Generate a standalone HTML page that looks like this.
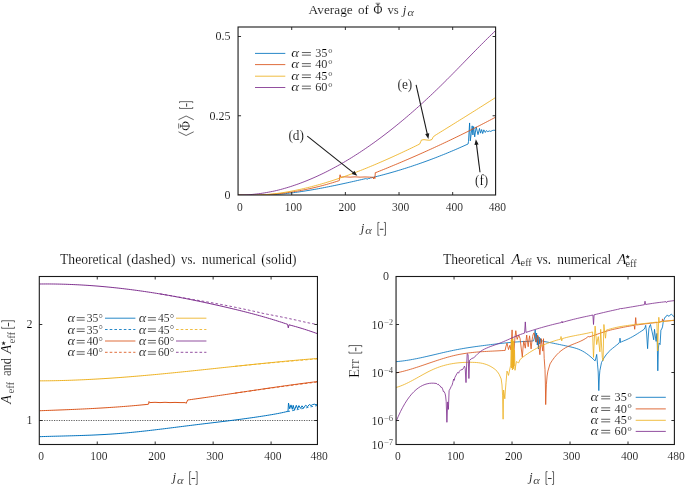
<!DOCTYPE html>
<html><head><meta charset="utf-8"><title>plots</title>
<style>
html,body{margin:0;padding:0;background:#fff;}
svg{display:block;font-family:'Liberation Serif', serif;}
</style></head>
<body>
<svg width="685" height="486" viewBox="0 0 685 486">
<rect width="685" height="486" fill="#ffffff"/>
<clipPath id="c1"><rect x="238.05" y="27.0" width="257.55" height="168.0"/></clipPath>
<g clip-path="url(#c1)"><path d="M238.00,194.82 L240.06,194.95 L242.12,195.05 L244.18,195.15 L246.24,195.22 L248.30,195.28 L250.36,195.32 L252.42,195.34 L254.48,195.35 L256.54,195.34 L258.60,195.32 L260.66,195.28 L262.72,195.23 L264.78,195.16 L266.84,195.07 L268.90,194.98 L270.95,194.86 L273.01,194.74 L275.07,194.60 L277.13,194.45 L279.19,194.27 L281.25,194.08 L283.31,193.87 L285.37,193.65 L287.43,193.41 L289.49,193.17 L291.55,192.92 L293.61,192.65 L295.67,192.37 L297.73,192.09 L299.79,191.79 L301.85,191.48 L303.91,191.17 L305.97,190.84 L308.03,190.51 L310.09,190.16 L312.15,189.81 L314.21,189.45 L316.27,189.08 L318.33,188.71 L320.39,188.33 L322.45,187.94 L324.51,187.54 L326.57,187.14 L328.63,186.73 L330.69,186.31 L332.75,185.89 L334.80,185.47 L336.86,185.04 L338.92,184.60 L340.98,184.16 L343.04,183.72 L345.10,183.27 L347.16,182.82 L349.22,182.36 L351.28,181.90 L353.34,181.44 L355.40,180.98 L357.46,180.51 L359.52,180.04 L361.58,179.57 L363.64,179.10 L365.70,178.63 L366.40,178.75 L367.50,179.25 L368.50,177.95 L369.50,178.95 L370.50,177.65 L371.50,177.85 L371.50,177.75 L373.56,177.25 L375.61,176.74 L377.67,176.22 L379.72,175.70 L381.78,175.16 L383.83,174.61 L385.89,174.06 L387.94,173.49 L390.00,172.92 L392.05,172.33 L394.11,171.74 L396.16,171.13 L398.22,170.52 L400.27,169.90 L402.33,169.26 L404.39,168.62 L406.44,167.97 L408.50,167.31 L410.55,166.63 L412.61,165.95 L414.66,165.26 L416.72,164.56 L418.77,163.85 L420.83,163.14 L422.88,162.41 L424.94,161.67 L426.99,160.92 L429.05,160.16 L431.10,159.40 L433.16,158.62 L435.21,157.83 L437.27,157.04 L439.33,156.23 L441.38,155.42 L443.44,154.59 L445.49,153.76 L447.55,152.92 L449.60,152.06 L451.66,151.20 L453.71,150.33 L455.77,149.45 L457.82,148.56 L459.88,147.66 L461.93,146.74 L463.99,145.82 L466.04,144.90 L468.10,143.96 L468.50,141.35 L469.60,122.95 L470.30,140.85 L472.20,125.85 L472.90,134.95 L473.60,126.55 L474.70,136.85 L476.20,126.95 L478.00,134.65 L479.50,128.45 L480.50,133.15 L481.60,129.55 L482.70,133.55 L483.80,129.85 L485.30,132.45 L486.40,130.55 L487.80,131.65 L489.30,130.95 L490.80,131.45 L492.20,130.55 L493.70,130.25 L495.50,130.25" fill="none" stroke="#0072BD" stroke-width="0.86" stroke-linejoin="round"/><path d="M238.00,194.97 L240.06,195.04 L242.11,195.10 L244.17,195.14 L246.22,195.17 L248.28,195.19 L250.33,195.19 L252.39,195.18 L254.44,195.15 L256.50,195.11 L258.55,195.06 L260.61,194.99 L262.66,194.90 L264.72,194.80 L266.77,194.69 L268.83,194.56 L270.88,194.42 L272.94,194.26 L274.99,194.09 L277.05,193.90 L279.10,193.69 L281.16,193.46 L283.21,193.21 L285.27,192.94 L287.32,192.67 L289.38,192.37 L291.43,192.06 L293.49,191.74 L295.54,191.40 L297.60,191.05 L299.65,190.68 L301.71,190.30 L303.76,189.90 L305.82,189.48 L307.87,189.05 L309.93,188.61 L311.98,188.15 L314.04,187.67 L316.09,187.18 L318.15,186.68 L320.20,186.16 L322.26,185.62 L324.31,185.07 L326.37,184.50 L328.42,183.92 L330.48,183.32 L332.53,182.71 L334.59,182.08 L336.64,181.44 L338.70,180.78 L339.30,180.55 L339.70,176.75 L340.10,174.75 L340.60,177.15 L345.00,176.85 L350.00,177.15 L355.00,176.85 L360.00,177.15 L365.00,176.95 L370.00,177.15 L373.00,177.25 L373.60,178.95 L374.30,176.85 L374.90,178.55 L375.30,172.65 L375.30,172.80 L377.34,171.99 L379.37,171.17 L381.41,170.35 L383.45,169.53 L385.49,168.70 L387.52,167.86 L389.56,167.03 L391.60,166.18 L393.64,165.34 L395.67,164.49 L397.71,163.63 L399.75,162.77 L401.78,161.91 L403.82,161.04 L405.86,160.17 L407.90,159.30 L409.93,158.42 L411.97,157.53 L414.01,156.64 L416.05,155.75 L418.08,154.85 L420.12,153.95 L422.16,153.04 L424.19,152.13 L426.23,151.21 L428.27,150.29 L430.31,149.37 L432.34,148.44 L434.38,147.50 L436.42,146.56 L438.46,145.62 L440.49,144.67 L442.53,143.72 L444.57,142.76 L446.61,141.80 L448.64,140.83 L450.68,139.86 L452.72,138.88 L454.75,137.90 L456.79,136.92 L458.83,135.93 L460.87,134.93 L462.90,133.93 L464.94,132.92 L466.98,131.91 L469.02,130.90 L471.05,129.88 L473.09,128.85 L475.13,127.82 L477.16,126.79 L479.20,125.75 L481.24,124.70 L483.28,123.65 L485.31,122.60 L487.35,121.54 L489.39,120.47 L491.43,119.40 L493.46,118.33 L495.50,117.25" fill="none" stroke="#D95319" stroke-width="0.86" stroke-linejoin="round"/><path d="M238.00,195.01 L240.04,195.10 L242.08,195.17 L244.12,195.22 L246.16,195.25 L248.20,195.26 L250.24,195.26 L252.28,195.23 L254.32,195.18 L256.36,195.12 L258.40,195.04 L260.44,194.94 L262.49,194.82 L264.53,194.68 L266.57,194.53 L268.61,194.35 L270.65,194.16 L272.69,193.95 L274.73,193.73 L276.77,193.49 L278.81,193.22 L280.85,192.93 L282.89,192.62 L284.93,192.30 L286.97,191.95 L289.01,191.60 L291.05,191.22 L293.09,190.84 L295.13,190.43 L297.17,190.01 L299.21,189.58 L301.25,189.13 L303.29,188.67 L305.33,188.19 L307.38,187.70 L309.42,187.19 L311.46,186.67 L313.50,186.14 L315.54,185.59 L317.58,185.04 L319.62,184.46 L321.66,183.88 L323.70,183.28 L325.74,182.67 L327.78,182.04 L329.82,181.41 L331.86,180.76 L333.90,180.10 L335.94,179.43 L337.98,178.74 L340.02,178.05 L342.06,177.34 L344.10,176.63 L346.14,175.90 L348.18,175.16 L350.22,174.42 L352.27,173.66 L354.31,172.89 L356.35,172.11 L358.39,171.32 L360.43,170.53 L362.47,169.72 L364.51,168.90 L366.55,168.08 L368.59,167.25 L370.63,166.40 L372.67,165.55 L374.71,164.69 L376.75,163.83 L378.79,162.95 L380.83,162.07 L382.87,161.18 L384.91,160.28 L386.95,159.38 L388.99,158.47 L391.03,157.55 L393.07,156.63 L395.11,155.70 L397.16,154.76 L399.20,153.82 L401.24,152.87 L403.28,151.91 L405.32,150.95 L407.36,149.99 L409.40,149.02 L411.44,148.04 L413.48,147.06 L415.52,146.07 L417.56,145.09 L419.60,144.09 L420.70,141.85 L421.40,140.05 L424.00,139.65 L426.90,140.05 L429.80,140.25 L432.00,139.45 L433.10,137.15 L434.20,136.05 L434.20,135.96 L436.31,134.66 L438.43,133.35 L440.54,132.04 L442.66,130.73 L444.77,129.43 L446.88,128.12 L449.00,126.81 L451.11,125.50 L453.22,124.18 L455.34,122.87 L457.45,121.56 L459.57,120.24 L461.68,118.92 L463.79,117.61 L465.91,116.29 L468.02,114.96 L470.13,113.64 L472.25,112.31 L474.36,110.99 L476.48,109.66 L478.59,108.32 L480.70,106.99 L482.82,105.65 L484.93,104.31 L487.04,102.96 L489.16,101.62 L491.27,100.27 L493.39,98.91 L495.50,97.56" fill="none" stroke="#EDB120" stroke-width="0.86" stroke-linejoin="round"/><path d="M238.00,195.18 L240.03,195.15 L242.06,195.09 L244.08,195.01 L246.11,194.91 L248.14,194.78 L250.17,194.63 L252.19,194.46 L254.22,194.26 L256.25,194.03 L258.28,193.79 L260.30,193.52 L262.33,193.22 L264.36,192.90 L266.39,192.56 L268.41,192.20 L270.44,191.81 L272.47,191.40 L274.50,190.97 L276.52,190.51 L278.55,190.02 L280.58,189.50 L282.61,188.94 L284.63,188.37 L286.66,187.77 L288.69,187.16 L290.72,186.52 L292.74,185.85 L294.77,185.17 L296.80,184.47 L298.83,183.74 L300.85,182.99 L302.88,182.22 L304.91,181.43 L306.94,180.62 L308.96,179.78 L310.99,178.93 L313.02,178.06 L315.05,177.16 L317.07,176.25 L319.10,175.31 L321.13,174.35 L323.16,173.38 L325.19,172.38 L327.21,171.36 L329.24,170.33 L331.27,169.27 L333.30,168.19 L335.32,167.10 L337.35,165.98 L339.38,164.85 L341.41,163.70 L343.43,162.52 L345.46,161.33 L347.49,160.12 L349.52,158.89 L351.54,157.65 L353.57,156.38 L355.60,155.09 L357.63,153.79 L359.65,152.47 L361.68,151.13 L363.71,149.77 L365.74,148.40 L367.76,147.00 L369.79,145.59 L371.82,144.17 L373.85,142.72 L375.87,141.26 L377.90,139.78 L379.93,138.28 L381.96,136.77 L383.98,135.23 L386.01,133.69 L388.04,132.12 L390.07,130.54 L392.09,128.94 L394.12,127.32 L396.15,125.69 L398.18,124.04 L400.20,122.38 L402.23,120.70 L404.26,119.00 L406.29,117.29 L408.31,115.56 L410.34,113.81 L412.37,112.05 L414.40,110.27 L416.43,108.48 L418.45,106.67 L420.48,104.84 L422.51,103.00 L424.54,101.15 L426.56,99.28 L428.59,97.39 L430.62,95.49 L432.65,93.57 L434.67,91.64 L436.70,89.69 L438.73,87.73 L440.76,85.75 L442.78,83.76 L444.81,81.76 L446.84,79.74 L448.87,77.70 L450.89,75.66 L452.92,73.60 L454.95,71.54 L456.98,69.47 L459.00,67.40 L461.03,65.32 L463.06,63.24 L465.09,61.15 L467.11,59.07 L469.14,56.99 L471.17,54.91 L473.20,52.84 L475.22,50.77 L477.25,48.70 L479.28,46.65 L481.31,44.61 L483.33,42.57 L485.36,40.55 L487.39,38.55 L489.42,36.56 L491.44,34.58 L493.47,32.63 L495.50,30.69" fill="none" stroke="#7E2F8E" stroke-width="0.86" stroke-linejoin="round"/></g>
<rect x="238.05" y="27.0" width="257.55" height="168.0" fill="none" stroke="#1a1a1a" stroke-width="1.1"/><path d="M291.71,195.0 v-3.0 M291.71,27.0 v3.0 M345.36,195.0 v-3.0 M345.36,27.0 v3.0 M399.02,195.0 v-3.0 M399.02,27.0 v3.0 M452.68,195.0 v-3.0 M452.68,27.0 v3.0 M238.05,115.75 h3.0 M495.6,115.75 h-3.0 M238.05,36.50 h3.0 M495.6,36.50 h-3.0 " stroke="#1a1a1a" stroke-width="0.9" fill="none"/>
<path d="M255,53.4 H285.3" stroke="#0072BD" stroke-width="0.85"/>
<path d="M255,64.6 H285.3" stroke="#D95319" stroke-width="0.85"/>
<path d="M255,76.2 H285.3" stroke="#EDB120" stroke-width="0.85"/>
<path d="M255,87.5 H285.3" stroke="#7E2F8E" stroke-width="0.85"/>
<path d="M307.30,136.10 L353.85,173.06" stroke="#1a1a1a" stroke-width="1.1"/><path d="M357.30,175.80 L351.77,174.09 L354.38,170.80 Z" fill="#1a1a1a"/>
<path d="M416.10,84.80 L427.42,134.61" stroke="#1a1a1a" stroke-width="1.1"/><path d="M428.40,138.90 L425.16,134.10 L429.25,133.17 Z" fill="#1a1a1a"/>
<path d="M480.00,172.30 L476.40,143.67" stroke="#1a1a1a" stroke-width="1.1"/><path d="M475.85,139.30 L478.61,144.40 L474.44,144.92 Z" fill="#1a1a1a"/>
<clipPath id="c2"><rect x="39.3" y="276.5" width="278.15" height="168.0"/></clipPath>
<g clip-path="url(#c2)"><path d="M39.3,420.5 H317.45" stroke="#1a1a1a" stroke-width="0.7" stroke-dasharray="1.2 1.25"/><path d="M39.50,436.66 L41.52,436.60 L43.53,436.54 L45.55,436.48 L47.57,436.42 L49.58,436.37 L51.60,436.31 L53.61,436.26 L55.63,436.21 L57.65,436.16 L59.66,436.11 L61.68,436.05 L63.70,436.00 L65.71,435.95 L67.73,435.90 L69.74,435.84 L71.76,435.79 L73.78,435.73 L75.79,435.67 L77.81,435.61 L79.83,435.55 L81.84,435.48 L83.86,435.41 L85.87,435.34 L87.89,435.27 L89.91,435.19 L91.92,435.11 L93.94,435.02 L95.96,434.93 L97.97,434.83 L99.99,434.73 L102.00,434.63 L104.02,434.52 L106.04,434.41 L108.05,434.28 L110.07,434.16 L112.09,434.02 L114.10,433.88 L116.12,433.74 L118.13,433.58 L120.15,433.42 L122.17,433.26 L124.18,433.09 L126.20,432.91 L128.22,432.72 L130.23,432.53 L132.25,432.34 L134.26,432.14 L136.28,431.93 L138.30,431.73 L140.31,431.51 L142.33,431.29 L144.35,431.07 L146.36,430.85 L148.38,430.62 L150.39,430.39 L152.41,430.15 L154.43,429.91 L156.44,429.67 L158.46,429.43 L160.48,429.18 L162.49,428.94 L164.51,428.69 L166.52,428.44 L168.54,428.19 L170.56,427.93 L172.57,427.68 L174.59,427.43 L176.61,427.17 L178.62,426.92 L180.64,426.66 L182.65,426.41 L184.67,426.15 L186.69,425.90 L188.70,425.65 L190.72,425.40 L192.74,425.15 L194.75,424.90 L196.77,424.65 L198.78,424.41 L200.80,424.16 L202.82,423.92 L204.83,423.67 L206.85,423.43 L208.87,423.19 L210.88,422.95 L212.90,422.71 L214.91,422.46 L216.93,422.22 L218.95,421.98 L220.96,421.73 L222.98,421.49 L225.00,421.24 L227.01,420.99 L229.03,420.74 L231.04,420.49 L233.06,420.23 L235.08,419.97 L237.09,419.71 L239.11,419.45 L241.13,419.19 L243.14,418.92 L245.16,418.64 L247.17,418.37 L249.19,418.09 L251.21,417.80 L253.22,417.52 L255.24,417.22 L257.26,416.93 L259.27,416.62 L261.29,416.32 L263.30,416.00 L265.32,415.69 L267.34,415.36 L269.35,415.03 L271.37,414.70 L273.39,414.35 L275.40,413.99 L277.42,413.62 L279.43,413.23 L281.45,412.82 L283.47,412.39 L285.48,411.92 L287.50,411.42 L288.00,411.20 L288.50,403.10 L289.70,408.80 L291.00,404.90 L292.30,409.30 L293.20,405.30 L294.50,410.10 L296.30,405.30 L297.60,408.80 L298.90,405.60 L300.60,408.40 L302.00,405.80 L303.70,408.00 L305.50,405.30 L307.60,406.60 L309.40,404.50 L311.00,405.60 L312.50,404.60 L314.70,404.20 L316.00,404.80 L317.50,404.50" fill="none" stroke="#0072BD" stroke-width="1.0" stroke-linejoin="round"/><path d="M287.50,411.64 L290.23,411.10 L292.95,410.55 L295.68,409.99 L298.41,409.43 L301.14,408.86 L303.86,408.29 L306.59,407.72 L309.32,407.14 L312.05,406.57 L314.77,406.01 L317.50,405.44" fill="none" stroke="#0072BD" stroke-width="0.86" stroke-linejoin="round" stroke-dasharray="2.6 2.1"/><path d="M39.50,410.73 L41.55,410.66 L43.60,410.59 L45.65,410.51 L47.70,410.44 L49.75,410.36 L51.79,410.29 L53.84,410.21 L55.89,410.14 L57.94,410.06 L59.99,409.98 L62.04,409.90 L64.09,409.82 L66.14,409.73 L68.19,409.65 L70.24,409.56 L72.28,409.48 L74.33,409.39 L76.38,409.30 L78.43,409.20 L80.48,409.11 L82.53,409.01 L84.58,408.91 L86.63,408.81 L88.68,408.71 L90.73,408.60 L92.78,408.50 L94.82,408.38 L96.87,408.27 L98.92,408.15 L100.97,408.04 L103.02,407.91 L105.07,407.79 L107.12,407.66 L109.17,407.53 L111.22,407.39 L113.27,407.26 L115.32,407.12 L117.36,406.97 L119.41,406.82 L121.46,406.67 L123.51,406.51 L125.56,406.35 L127.61,406.19 L129.66,406.02 L131.71,405.85 L133.76,405.67 L135.81,405.49 L137.85,405.31 L139.90,405.12 L141.95,404.92 L144.00,404.72 L146.05,404.52 L148.10,404.31 L148.60,404.10 L149.00,401.50 L149.60,402.60 L155.00,402.30 L160.00,402.60 L165.00,402.30 L170.00,402.60 L175.00,402.40 L180.00,402.60 L185.50,402.60 L186.10,403.40 L186.80,402.00 L187.60,400.10 L187.60,400.00 L189.66,399.72 L191.72,399.44 L193.79,399.15 L195.85,398.86 L197.91,398.57 L199.97,398.28 L202.03,397.99 L204.10,397.69 L206.16,397.40 L208.22,397.10 L210.28,396.80 L212.34,396.50 L214.40,396.20 L216.47,395.90 L218.53,395.59 L220.59,395.29 L222.65,394.99 L224.71,394.68 L226.78,394.38 L228.84,394.07 L230.90,393.76 L232.96,393.46 L235.02,393.15 L237.09,392.84 L239.15,392.53 L241.21,392.23 L243.27,391.92 L245.33,391.61 L247.40,391.30 L249.46,391.00 L251.52,390.69 L253.58,390.38 L255.64,390.08 L257.70,389.77 L259.77,389.47 L261.83,389.16 L263.89,388.86 L265.95,388.56 L268.01,388.26 L270.08,387.96 L272.14,387.66 L274.20,387.36 L276.26,387.06 L278.32,386.77 L280.39,386.48 L282.45,386.18 L284.51,385.89 L286.57,385.60 L288.63,385.32 L290.70,385.03 L292.76,384.75 L294.82,384.47 L296.88,384.19 L298.94,383.91 L301.00,383.64 L303.07,383.37 L305.13,383.10 L307.19,382.83 L309.25,382.57 L311.31,382.30 L313.38,382.05 L315.44,381.79 L317.50,381.54" fill="none" stroke="#D95319" stroke-width="1.0" stroke-linejoin="round"/><path d="M235.00,393.15 L237.84,392.75 L240.69,392.34 L243.53,391.94 L246.38,391.53 L249.22,391.13 L252.07,390.72 L254.91,390.32 L257.76,389.92 L260.60,389.52 L263.45,389.12 L266.29,388.72 L269.14,388.33 L271.98,387.94 L274.83,387.55 L277.67,387.16 L280.52,386.77 L283.36,386.39 L286.21,386.01 L289.05,385.63 L291.90,385.26 L294.74,384.89 L297.59,384.53 L300.43,384.17 L303.28,383.79 L306.12,383.42 L308.97,383.05 L311.81,382.69 L314.66,382.34 L317.50,381.99" fill="none" stroke="#D95319" stroke-width="0.86" stroke-linejoin="round" stroke-dasharray="2.6 2.1"/><path d="M39.50,380.85 L41.51,380.84 L43.53,380.83 L45.54,380.81 L47.56,380.79 L49.57,380.77 L51.59,380.74 L53.60,380.71 L55.62,380.67 L57.63,380.63 L59.64,380.58 L61.66,380.53 L63.67,380.48 L65.69,380.42 L67.70,380.36 L69.72,380.29 L71.73,380.22 L73.75,380.14 L75.76,380.07 L77.78,379.98 L79.79,379.90 L81.80,379.81 L83.82,379.72 L85.83,379.62 L87.85,379.52 L89.86,379.42 L91.88,379.31 L93.89,379.20 L95.91,379.09 L97.92,378.97 L99.93,378.85 L101.95,378.73 L103.96,378.61 L105.98,378.48 L107.99,378.35 L110.01,378.21 L112.02,378.08 L114.04,377.93 L116.05,377.79 L118.07,377.65 L120.08,377.50 L122.09,377.35 L124.11,377.19 L126.12,377.04 L128.14,376.88 L130.15,376.72 L132.17,376.56 L134.18,376.39 L136.20,376.22 L138.21,376.05 L140.22,375.88 L142.24,375.71 L144.25,375.53 L146.27,375.35 L148.28,375.17 L150.30,374.99 L152.31,374.81 L154.33,374.62 L156.34,374.44 L158.36,374.25 L160.37,374.06 L162.38,373.86 L164.40,373.67 L166.41,373.48 L168.43,373.28 L170.44,373.08 L172.46,372.88 L174.47,372.68 L176.49,372.48 L178.50,372.28 L180.51,372.08 L182.53,371.87 L184.54,371.66 L186.56,371.46 L188.57,371.25 L190.59,371.04 L192.60,370.83 L194.62,370.62 L196.63,370.41 L198.64,370.20 L200.66,369.99 L202.67,369.78 L204.69,369.56 L206.70,369.35 L208.72,369.14 L210.73,368.92 L212.75,368.71 L214.76,368.49 L216.78,368.28 L218.79,368.06 L220.80,367.85 L222.82,367.63 L224.83,367.42 L226.85,367.20 L228.86,366.99 L230.88,366.77 L232.89,366.56 L234.91,366.35 L236.92,366.13 L238.93,365.92 L240.95,365.71 L242.96,365.49 L244.98,365.28 L246.99,365.07 L249.01,364.86 L251.02,364.65 L253.04,364.44 L255.05,364.23 L257.07,364.03 L259.08,363.82 L261.09,363.62 L263.11,363.41 L265.12,363.21 L267.14,363.01 L269.15,362.80 L271.17,362.60 L273.18,362.41 L275.20,362.21 L277.21,362.01 L279.22,361.82 L281.24,361.63 L283.25,361.43 L285.27,361.24 L287.28,361.06 L289.30,360.87 L291.31,360.69 L293.33,360.50 L295.34,360.32 L297.36,360.14 L299.37,359.96 L301.38,359.79 L303.40,359.62 L305.41,359.45 L307.43,359.28 L309.44,359.11 L311.46,358.95 L313.47,358.78 L315.49,358.62 L317.50,358.47" fill="none" stroke="#EDB120" stroke-width="1.0" stroke-linejoin="round"/><path d="M235.00,366.34 L237.84,366.05 L240.69,365.77 L243.53,365.49 L246.38,365.21 L249.22,364.94 L252.07,364.66 L254.91,364.39 L257.76,364.11 L260.60,363.84 L263.45,363.57 L266.29,363.31 L269.14,363.04 L271.98,362.78 L274.83,362.52 L277.67,362.26 L280.52,362.01 L283.36,361.76 L286.21,361.51 L289.05,361.27 L291.90,361.03 L294.74,360.79 L297.59,360.55 L300.43,360.32 L303.28,360.08 L306.12,359.84 L308.97,359.60 L311.81,359.37 L314.66,359.14 L317.50,358.92" fill="none" stroke="#EDB120" stroke-width="0.86" stroke-linejoin="round" stroke-dasharray="2.6 2.1"/><path d="M39.50,284.00 L41.52,283.98 L43.53,283.97 L45.55,283.96 L47.57,283.96 L49.59,283.97 L51.60,283.99 L53.62,284.01 L55.64,284.04 L57.65,284.07 L59.67,284.12 L61.69,284.16 L63.70,284.22 L65.72,284.28 L67.74,284.35 L69.76,284.43 L71.77,284.51 L73.79,284.60 L75.81,284.69 L77.82,284.79 L79.84,284.90 L81.86,285.01 L83.88,285.13 L85.89,285.26 L87.91,285.39 L89.93,285.53 L91.94,285.67 L93.96,285.82 L95.98,285.98 L98.00,286.14 L100.01,286.31 L102.03,286.49 L104.05,286.67 L106.06,286.85 L108.08,287.05 L110.10,287.24 L112.11,287.45 L114.13,287.66 L116.15,287.87 L118.17,288.09 L120.18,288.32 L122.20,288.55 L124.22,288.79 L126.23,289.04 L128.25,289.29 L130.27,289.54 L132.29,289.80 L134.30,290.07 L136.32,290.34 L138.34,290.61 L140.35,290.90 L142.37,291.18 L144.39,291.48 L146.40,291.77 L148.42,292.08 L150.44,292.39 L152.46,292.70 L154.47,293.02 L156.49,293.34 L158.51,293.67 L160.52,294.00 L162.54,294.34 L164.56,294.69 L166.58,295.03 L168.59,295.39 L170.61,295.75 L172.63,296.11 L174.64,296.48 L176.66,296.85 L178.68,297.23 L180.70,297.61 L182.71,298.00 L184.73,298.39 L186.75,298.78 L188.76,299.18 L190.78,299.59 L192.80,300.00 L194.81,300.41 L196.83,300.82 L198.85,301.24 L200.87,301.67 L202.88,302.09 L204.90,302.52 L206.92,302.96 L208.93,303.39 L210.95,303.83 L212.97,304.28 L214.99,304.72 L217.00,305.17 L219.02,305.62 L221.04,306.08 L223.05,306.54 L225.07,307.00 L227.09,307.47 L229.10,307.94 L231.12,308.42 L233.14,308.90 L235.16,309.38 L237.17,309.87 L239.19,310.37 L241.21,310.87 L243.22,311.37 L245.24,311.89 L247.26,312.40 L249.28,312.93 L251.29,313.46 L253.31,313.99 L255.33,314.54 L257.34,315.09 L259.36,315.64 L261.38,316.21 L263.40,316.78 L265.41,317.36 L267.43,317.95 L269.45,318.55 L271.46,319.15 L273.48,319.76 L275.50,320.39 L277.51,321.02 L279.53,321.66 L281.55,322.31 L283.57,322.97 L285.58,323.64 L287.60,324.32 L288.30,327.90 L289.00,324.80 L291.19,325.38 L293.38,325.97 L295.58,326.59 L297.77,327.22 L299.96,327.87 L302.15,328.53 L304.35,329.22 L306.54,329.92 L308.73,330.64 L310.92,331.38 L313.12,332.14 L315.31,332.91 L317.50,333.70" fill="none" stroke="#7E2F8E" stroke-width="1.0" stroke-linejoin="round"/><path d="M160.00,293.89 L161.99,294.21 L163.99,294.54 L165.98,294.87 L167.97,295.20 L169.97,295.54 L171.96,295.88 L173.96,296.23 L175.95,296.58 L177.94,296.94 L179.94,297.28 L181.93,297.61 L183.92,297.95 L185.92,298.29 L187.91,298.63 L189.91,298.98 L191.90,299.33 L193.89,299.68 L195.89,300.01 L197.88,300.34 L199.87,300.67 L201.87,301.01 L203.86,301.35 L205.85,301.70 L207.85,302.05 L209.84,302.40 L211.84,302.76 L213.83,303.12 L215.82,303.49 L217.82,303.86 L219.81,304.23 L221.80,304.61 L223.80,305.00 L225.79,305.39 L227.78,305.78 L229.78,306.18 L231.77,306.59 L233.77,306.99 L235.76,307.40 L237.75,307.81 L239.75,308.22 L241.74,308.64 L243.73,309.06 L245.73,309.48 L247.72,309.91 L249.72,310.35 L251.71,310.79 L253.70,311.23 L255.70,311.68 L257.69,312.14 L259.68,312.60 L261.68,313.06 L263.67,313.53 L265.66,313.92 L267.66,314.29 L269.65,314.67 L271.65,315.04 L273.64,315.43 L275.63,315.82 L277.63,316.21 L279.62,316.60 L281.61,317.00 L283.61,317.40 L285.60,317.81 L287.59,318.23 L289.59,318.66 L291.58,319.10 L293.58,319.54 L295.57,319.98 L297.56,320.42 L299.56,320.87 L301.55,321.32 L303.54,321.77 L305.54,322.23 L307.53,322.69 L309.53,323.07 L311.52,323.42 L313.51,323.77 L315.51,324.13 L317.50,324.49" fill="none" stroke="#7E2F8E" stroke-width="0.86" stroke-linejoin="round" stroke-dasharray="2.6 2.1"/></g>
<rect x="39.3" y="276.5" width="278.15" height="168.0" fill="none" stroke="#1a1a1a" stroke-width="1.1"/><path d="M97.25,444.5 v-3.0 M97.25,276.5 v3.0 M155.20,444.5 v-3.0 M155.20,276.5 v3.0 M213.14,444.5 v-3.0 M213.14,276.5 v3.0 M271.09,444.5 v-3.0 M271.09,276.5 v3.0 M39.3,420.50 h3.0 M317.45,420.50 h-3.0 M39.3,324.50 h3.0 M317.45,324.50 h-3.0 " stroke="#1a1a1a" stroke-width="0.9" fill="none"/>
<path d="M105.0,318.2 h30.4" stroke="#0072BD" stroke-width="0.85"/>
<path d="M105.0,329.5 h30.4" stroke="#0072BD" stroke-width="0.85" stroke-dasharray="2.6 2.1"/>
<path d="M105.0,341.0 h30.4" stroke="#D95319" stroke-width="0.85"/>
<path d="M105.0,352.3 h30.4" stroke="#D95319" stroke-width="0.85" stroke-dasharray="2.6 2.1"/>
<path d="M176.0,318.2 h30.4" stroke="#EDB120" stroke-width="0.85"/>
<path d="M176.0,329.5 h30.4" stroke="#EDB120" stroke-width="0.85" stroke-dasharray="2.6 2.1"/>
<path d="M176.0,341.0 h30.4" stroke="#7E2F8E" stroke-width="0.85"/>
<path d="M176.0,352.3 h30.4" stroke="#7E2F8E" stroke-width="0.85" stroke-dasharray="2.6 2.1"/>
<clipPath id="c3"><rect x="396.05" y="276.5" width="278.34999999999997" height="168.0"/></clipPath>
<g clip-path="url(#c3)"><path d="M396.10,361.66 L398.15,361.48 L400.20,361.26 L402.26,361.02 L404.31,360.75 L406.36,360.45 L408.41,360.13 L410.47,359.78 L412.52,359.42 L414.57,359.03 L416.62,358.63 L418.67,358.21 L420.73,357.78 L422.78,357.33 L424.83,356.87 L426.88,356.41 L428.94,355.93 L430.99,355.46 L433.04,354.97 L435.09,354.49 L437.14,354.00 L439.20,353.52 L441.25,353.04 L443.30,352.56 L445.35,352.09 L447.41,351.63 L449.46,351.18 L451.51,350.74 L453.56,350.31 L455.61,349.89 L457.67,349.50 L459.72,349.12 L461.77,348.75 L463.82,348.40 L465.88,348.06 L467.93,347.73 L469.98,347.42 L472.03,347.11 L474.09,346.82 L476.14,346.53 L478.19,346.25 L480.24,345.97 L482.29,345.71 L484.35,345.44 L486.40,345.18 L488.45,344.93 L490.50,344.67 L492.56,344.42 L494.61,344.17 L496.66,343.92 L498.71,343.68 L500.76,343.45 L502.82,343.22 L504.87,343.00 L506.92,342.79 L508.97,342.59 L511.03,342.40 L513.08,342.22 L515.13,342.06 L517.18,341.91 L519.23,341.77 L521.29,341.66 L523.34,341.56 L525.39,341.48 L527.44,341.39 L529.50,341.26 L531.55,341.07 L533.60,340.77 L534.30,338.00 L535.20,329.90 L535.90,342.00 L536.60,333.00 L537.30,345.00 L537.90,336.00 L538.40,348.90 L539.10,337.00 L539.80,344.00 L540.50,338.50 L541.30,342.50 L542.00,340.50 L542.80,341.30 L542.80,341.28 L544.89,341.64 L546.98,342.02 L549.08,342.41 L551.17,342.81 L553.26,343.23 L555.35,343.65 L557.44,344.09 L559.54,344.53 L561.63,344.97 L563.72,345.42 L565.81,345.87 L567.90,346.31 L570.00,346.76 L572.09,347.25 L574.18,347.79 L576.27,348.42 L578.36,349.17 L580.46,350.05 L582.55,351.09 L584.64,352.31 L586.73,353.72 L588.82,355.29 L590.92,357.02 L593.01,358.91 L595.10,360.95 L595.90,358.00 L596.70,354.40 L597.50,364.10 L598.20,372.00 L598.80,390.60 L599.40,376.00 L599.90,370.50 L601.50,362.50 L603.90,358.00 L603.90,358.00 L606.06,354.92 L608.21,352.31 L610.37,350.16 L612.53,348.37 L614.69,346.63 L616.84,344.91 L619.00,343.20 L619.60,341.50 L620.00,338.20 L620.60,342.60 L621.40,341.80 L621.40,341.80 L623.67,340.93 L625.94,339.97 L628.21,338.92 L630.48,337.78 L632.75,336.55 L635.02,335.22 L637.29,333.82 L639.56,332.37 L641.83,330.86 L644.10,329.30 L645.00,327.50 L645.70,325.30 L646.60,333.00 L647.60,348.70 L648.20,338.00 L648.90,328.50 L649.70,326.00 L650.50,324.50 L651.40,329.00 L652.10,331.80 L653.00,336.00 L653.70,339.80 L654.50,329.30 L655.30,336.00 L656.10,341.40 L656.90,333.40 L657.30,345.00 L657.80,370.80 L658.40,348.00 L659.00,343.00 L660.10,344.60 L660.90,330.10 L661.70,329.00 L662.50,326.90 L663.30,321.30 L664.10,319.50 L664.90,317.30 L666.00,316.80 L667.30,314.90 L668.30,316.00 L669.00,316.50 L670.20,314.90 L671.40,314.10 L672.40,315.20 L673.20,316.20 L674.30,316.50" fill="none" stroke="#0072BD" stroke-width="0.82" stroke-linejoin="round"/><path d="M396.10,372.92 L398.16,372.50 L400.22,372.05 L402.28,371.55 L404.33,371.03 L406.39,370.48 L408.45,369.89 L410.51,369.29 L412.57,368.66 L414.63,368.01 L416.68,367.35 L418.74,366.67 L420.80,365.99 L422.86,365.29 L424.92,364.59 L426.98,363.88 L429.04,363.17 L431.09,362.47 L433.15,361.77 L435.21,361.08 L437.27,360.40 L439.33,359.73 L441.39,359.07 L443.45,358.44 L445.50,357.82 L447.56,357.23 L449.62,356.66 L451.68,356.13 L453.74,355.62 L455.80,355.15 L457.85,354.71 L459.91,354.31 L461.97,353.94 L464.03,353.60 L466.09,353.29 L468.15,353.01 L470.21,352.75 L472.26,352.52 L474.32,352.31 L476.38,352.12 L478.44,351.94 L480.50,351.79 L482.56,351.64 L484.62,351.52 L486.67,351.40 L488.73,351.29 L490.79,351.18 L492.85,351.08 L494.91,350.98 L496.97,350.88 L499.02,350.77 L501.08,350.65 L503.14,350.52 L505.20,350.38 L505.80,347.00 L507.00,343.10 L508.50,349.60 L509.90,345.30 L511.00,350.00 L511.60,340.00 L512.10,329.90 L512.70,350.00 L513.30,367.30 L514.00,352.00 L514.90,338.00 L515.80,330.70 L516.50,336.00 L517.20,339.40 L518.00,337.00 L518.70,335.00 L519.50,337.00 L520.10,338.70 L521.20,348.00 L522.30,356.90 L523.00,348.00 L523.80,340.90 L524.60,345.00 L525.30,348.20 L526.00,341.00 L526.70,335.00 L527.40,341.00 L528.20,346.70 L528.90,340.00 L529.60,335.80 L530.40,343.00 L531.10,348.90 L531.80,342.00 L532.60,336.50 L533.30,334.00 L534.00,332.80 L535.10,338.00 L536.20,342.30 L537.00,338.00 L537.70,335.00 L538.80,345.00 L539.90,354.70 L540.60,346.00 L541.30,338.70 L542.10,346.00 L542.80,351.10 L543.20,345.00 L543.50,338.70 L543.90,350.00 L544.20,358.40 L545.00,369.60 L545.40,385.00 L545.70,404.60 L546.10,392.00 L546.40,384.20 L547.10,376.00 L547.90,371.10 L550.00,364.00 L550.00,363.92 L552.21,360.47 L554.41,357.47 L556.62,354.89 L558.82,352.68 L561.03,350.79 L563.24,349.19 L565.44,347.81 L567.65,346.63 L569.85,345.60 L572.06,344.66 L574.26,343.78 L576.47,342.92 L578.68,342.02 L580.88,341.04 L583.09,339.94 L585.29,338.68 L587.50,337.21 L588.20,336.30 L588.90,337.00 L588.90,337.00 L591.06,336.31 L593.21,335.61 L595.37,334.88 L597.53,334.14 L599.69,333.37 L601.84,332.63 L604.00,331.93 L606.16,331.28 L608.31,330.66 L610.47,330.08 L612.63,329.54 L614.79,329.05 L616.94,328.58 L619.10,328.13 L621.26,327.69 L623.41,327.26 L625.57,326.84 L627.73,326.44 L629.89,326.05 L632.04,325.67 L634.20,325.30 L634.70,329.30 L635.20,324.00 L635.70,317.60 L636.30,325.00 L636.30,325.00 L638.65,324.69 L640.99,324.38 L643.34,324.08 L645.68,323.79 L648.03,323.51 L650.37,323.24 L652.72,322.97 L655.06,322.71 L657.41,322.38 L659.75,321.94 L662.10,321.40 L662.50,318.90 L663.00,321.30 L663.00,321.30 L674.30,320.40" fill="none" stroke="#D95319" stroke-width="0.82" stroke-linejoin="round"/><path d="M396.10,387.46 L398.16,386.85 L400.22,386.14 L402.28,385.34 L404.34,384.46 L406.40,383.51 L408.46,382.50 L410.53,381.45 L412.59,380.35 L414.65,379.23 L416.71,378.08 L418.77,376.92 L420.83,375.77 L422.89,374.62 L424.95,373.50 L427.01,372.40 L429.07,371.34 L431.13,370.33 L433.19,369.38 L435.25,368.50 L437.32,367.68 L439.38,366.93 L441.44,366.25 L443.50,365.63 L445.56,365.08 L447.62,364.58 L449.68,364.13 L451.74,363.74 L453.80,363.41 L455.86,363.12 L457.92,362.88 L459.98,362.69 L462.05,362.53 L464.11,362.42 L466.17,362.35 L468.23,362.31 L470.29,362.31 L472.35,362.34 L474.41,362.41 L476.47,362.53 L478.53,362.73 L480.59,363.02 L482.65,363.42 L484.71,363.96 L486.77,364.65 L488.84,365.52 L490.90,366.58 L492.96,367.85 L495.02,369.35 L497.08,371.29 L499.14,374.28 L501.20,378.97 L502.00,385.00 L502.60,395.90 L503.10,419.20 L503.60,390.00 L504.20,394.00 L504.80,398.80 L505.40,390.00 L506.00,382.70 L507.00,371.10 L507.80,373.00 L508.50,375.40 L509.60,370.00 L510.70,365.20 L511.00,355.00 L511.30,340.00 L511.60,368.00 L512.00,339.00 L512.40,370.00 L512.80,338.50 L513.20,369.00 L513.60,341.00 L514.00,366.00 L514.50,350.00 L515.00,370.30 L515.80,365.00 L516.50,361.50 L517.60,362.40 L518.70,362.80 L519.80,360.00 L520.90,358.60 L520.90,358.67 L523.11,356.96 L525.32,355.34 L527.53,353.80 L529.74,352.34 L531.96,350.96 L534.17,349.66 L536.38,348.44 L538.59,347.29 L540.80,346.20 L543.01,345.18 L545.22,344.23 L547.43,343.34 L549.64,342.50 L551.86,341.72 L554.07,341.00 L556.28,340.32 L558.49,339.69 L560.70,339.11 L561.00,336.50 L561.70,340.90 L562.40,338.60 L562.40,338.60 L564.56,337.98 L566.71,337.42 L568.87,336.90 L571.03,336.42 L573.19,335.98 L575.34,335.55 L577.50,335.14 L579.66,334.74 L581.81,334.33 L583.97,333.91 L586.13,333.47 L588.29,333.01 L590.44,332.51 L592.60,331.96 L593.00,345.00 L593.50,357.40 L594.30,340.00 L595.10,326.10 L595.90,335.00 L596.70,344.60 L597.50,340.00 L598.30,336.60 L599.10,345.00 L599.90,351.80 L600.30,340.00 L600.70,329.30 L601.50,345.00 L602.30,357.40 L603.10,360.70 L603.50,340.00 L603.90,324.50 L604.70,332.00 L605.50,338.20 L606.30,330.10 L606.30,330.10 L608.41,329.46 L610.52,328.86 L612.62,328.30 L614.73,327.79 L616.84,327.31 L618.95,326.88 L621.06,326.49 L623.17,326.14 L625.27,325.82 L627.38,325.52 L629.49,325.23 L631.60,324.95 L633.71,324.69 L635.82,324.44 L637.92,324.20 L640.03,323.98 L642.14,323.76 L644.25,323.53 L646.36,323.30 L648.47,323.07 L650.57,322.83 L652.68,322.59 L654.79,322.35 L656.90,322.10 L657.70,351.00 L658.30,330.00 L658.80,317.30 L659.40,323.00 L660.10,321.80 L660.10,321.80 L662.13,321.60 L664.16,321.38 L666.19,321.15 L668.21,320.91 L670.24,320.65 L672.27,320.38 L674.30,320.10" fill="none" stroke="#EDB120" stroke-width="0.82" stroke-linejoin="round"/><path d="M396.10,421.48 L398.32,416.27 L400.53,411.53 L402.75,407.24 L404.97,403.37 L407.18,399.91 L409.40,396.83 L411.62,394.12 L413.83,391.75 L416.05,389.71 L418.27,387.98 L420.48,386.54 L422.70,385.36 L424.92,384.45 L427.13,383.79 L429.35,383.36 L431.57,383.17 L433.78,383.19 L436.00,383.41 L436.90,383.70 L437.60,384.50 L438.20,384.10 L439.20,385.40 L440.30,386.00 L441.20,387.60 L441.80,387.30 L442.60,388.90 L443.40,391.60 L444.00,391.40 L445.00,393.40 L445.60,396.00 L446.20,401.60 L446.90,422.30 L447.70,401.90 L448.40,409.40 L449.10,390.70 L449.10,390.70 L450.10,388.90 L451.20,386.50 L452.10,385.10 L452.80,382.40 L453.70,379.00 L454.20,380.40 L454.80,377.60 L455.70,375.90 L456.80,373.80 L457.80,372.30 L458.60,373.20 L459.40,371.30 L460.90,369.70 L462.00,369.80 L462.90,369.20 L463.80,367.40 L464.50,366.10 L465.20,368.40 L466.00,382.60 L466.60,366.00 L467.20,353.70 L468.10,354.50 L468.50,366.00 L468.90,378.50 L469.60,360.20 L469.60,360.21 L471.72,358.56 L473.83,357.67 L475.95,355.72 L478.06,353.50 L480.18,351.70 L482.29,350.29 L484.41,349.14 L486.52,348.15 L488.64,347.25 L490.75,346.42 L492.87,345.64 L494.98,344.89 L497.10,344.14 L499.22,343.36 L501.33,342.54 L503.45,341.67 L505.56,340.76 L507.68,339.84 L509.79,338.90 L511.91,337.97 L514.02,337.05 L516.14,336.16 L518.25,335.30 L520.37,334.49 L522.48,333.74 L524.60,333.07 L525.30,321.90 L526.00,332.40 L526.00,332.40 L528.22,331.67 L530.44,330.95 L532.66,330.25 L534.88,329.56 L537.09,328.89 L539.31,328.23 L541.53,327.59 L543.75,326.96 L545.97,326.34 L548.19,325.74 L550.41,325.16 L552.62,324.59 L554.84,324.05 L557.06,323.51 L559.28,323.00 L561.50,322.50 L562.00,321.30 L562.50,322.90 L562.50,322.30 L564.67,321.69 L566.84,321.09 L569.01,320.50 L571.19,319.94 L573.36,319.39 L575.53,318.85 L577.70,318.33 L579.87,317.83 L582.04,317.34 L584.21,316.87 L586.39,316.42 L588.56,315.95 L590.73,315.48 L592.90,315.00 L593.50,324.50 L594.10,314.80 L594.10,314.80 L596.44,314.23 L598.77,313.66 L601.11,313.10 L603.45,312.55 L605.78,312.00 L608.12,311.47 L610.45,310.94 L612.79,310.42 L615.13,309.90 L617.46,309.40 L619.80,308.90 L620.40,308.00 L621.00,308.70 L621.00,308.70 L623.34,308.31 L625.68,307.91 L628.02,307.51 L630.36,307.12 L632.70,306.72 L635.04,306.32 L637.38,305.91 L639.72,305.51 L642.06,305.11 L644.40,304.70 L645.00,301.20 L645.60,304.50 L645.60,304.50 L647.87,304.12 L650.13,303.76 L652.40,303.42 L654.67,303.09 L656.93,302.78 L659.20,302.48 L661.47,302.21 L663.73,301.94 L666.00,301.70 L666.60,302.60 L667.20,301.50 L667.20,301.50 L674.30,300.60" fill="none" stroke="#7E2F8E" stroke-width="0.82" stroke-linejoin="round"/></g>
<rect x="396.05" y="276.5" width="278.34999999999997" height="168.0" fill="none" stroke="#1a1a1a" stroke-width="1.1"/><path d="M454.04,444.5 v-3.0 M454.04,276.5 v3.0 M512.03,444.5 v-3.0 M512.03,276.5 v3.0 M570.02,444.5 v-3.0 M570.02,276.5 v3.0 M628.01,444.5 v-3.0 M628.01,276.5 v3.0 M396.05,324.50 h3.0 M674.4,324.50 h-3.0 M396.05,372.50 h3.0 M674.4,372.50 h-3.0 M396.05,420.50 h3.0 M674.4,420.50 h-3.0 " stroke="#1a1a1a" stroke-width="0.9" fill="none"/>
<path d="M635.7,397.3 H665.8" stroke="#0072BD" stroke-width="0.85"/>
<path d="M635.7,408.9 H665.8" stroke="#D95319" stroke-width="0.85"/>
<path d="M635.7,420.3 H665.8" stroke="#EDB120" stroke-width="0.85"/>
<path d="M635.7,431.4 H665.8" stroke="#7E2F8E" stroke-width="0.85"/>
<g fill="#000" stroke="#fff" stroke-width="0.15" opacity="0.999">
<text x="291.30" y="57.30" font-size="12.7" text-anchor="start" font-style="italic" textLength="7.8" lengthAdjust="spacingAndGlyphs">α</text>
<path d="M301.90,52.55 h9.0 M301.90,55.15 h9.0" stroke="#222" stroke-width="0.72" fill="none"/>
<text x="315.20" y="57.30" font-size="12.7" text-anchor="start" textLength="12.3" lengthAdjust="spacingAndGlyphs">35</text>
<text x="328.00" y="57.10" font-size="11.7" text-anchor="start">°</text>
<text x="291.30" y="68.40" font-size="12.7" text-anchor="start" font-style="italic" textLength="7.8" lengthAdjust="spacingAndGlyphs">α</text>
<path d="M301.90,63.65 h9.0 M301.90,66.25 h9.0" stroke="#222" stroke-width="0.72" fill="none"/>
<text x="315.20" y="68.40" font-size="12.7" text-anchor="start" textLength="12.3" lengthAdjust="spacingAndGlyphs">40</text>
<text x="328.00" y="68.20" font-size="11.7" text-anchor="start">°</text>
<text x="291.30" y="79.70" font-size="12.7" text-anchor="start" font-style="italic" textLength="7.8" lengthAdjust="spacingAndGlyphs">α</text>
<path d="M301.90,74.95 h9.0 M301.90,77.55 h9.0" stroke="#222" stroke-width="0.72" fill="none"/>
<text x="315.20" y="79.70" font-size="12.7" text-anchor="start" textLength="12.3" lengthAdjust="spacingAndGlyphs">45</text>
<text x="328.00" y="79.50" font-size="11.7" text-anchor="start">°</text>
<text x="291.30" y="90.90" font-size="12.7" text-anchor="start" font-style="italic" textLength="7.8" lengthAdjust="spacingAndGlyphs">α</text>
<path d="M301.90,86.15 h9.0 M301.90,88.75 h9.0" stroke="#222" stroke-width="0.72" fill="none"/>
<text x="315.20" y="90.90" font-size="12.7" text-anchor="start" textLength="12.3" lengthAdjust="spacingAndGlyphs">60</text>
<text x="328.00" y="90.70" font-size="11.7" text-anchor="start">°</text>
<text x="239.75" y="210.50" font-size="12" text-anchor="middle" textLength="5.75" lengthAdjust="spacingAndGlyphs">0</text>
<text x="293.41" y="210.50" font-size="12" text-anchor="middle" textLength="17.25" lengthAdjust="spacingAndGlyphs">100</text>
<text x="347.06" y="210.50" font-size="12" text-anchor="middle" textLength="17.25" lengthAdjust="spacingAndGlyphs">200</text>
<text x="400.72" y="210.50" font-size="12" text-anchor="middle" textLength="17.25" lengthAdjust="spacingAndGlyphs">300</text>
<text x="454.38" y="210.50" font-size="12" text-anchor="middle" textLength="17.25" lengthAdjust="spacingAndGlyphs">400</text>
<text x="497.30" y="210.50" font-size="12" text-anchor="middle" textLength="17.25" lengthAdjust="spacingAndGlyphs">480</text>
<text x="230.60" y="198.90" font-size="12" text-anchor="end">0</text>
<text x="230.60" y="119.65" font-size="12" text-anchor="end">0.25</text>
<text x="230.60" y="40.40" font-size="12" text-anchor="end">0.5</text>
<text x="308.60" y="13.75" font-size="13.0" text-anchor="start" textLength="44.2" lengthAdjust="spacingAndGlyphs">Average</text>
<text x="358.00" y="13.75" font-size="13.0" text-anchor="start" textLength="10.9" lengthAdjust="spacingAndGlyphs">of</text>
<text x="387.40" y="13.75" font-size="13.0" text-anchor="start" textLength="11.3" lengthAdjust="spacingAndGlyphs">vs</text>
<text x="402.80" y="13.75" font-size="13.0" text-anchor="start" font-style="italic">j</text>
<text x="407.60" y="15.80" font-size="9.6" text-anchor="start" font-style="italic" textLength="6.4" lengthAdjust="spacingAndGlyphs">α</text>
<text transform="translate(373.6,13.75) scale(1,1.1)" x="0" y="0" font-size="13" textLength="8.9" lengthAdjust="spacingAndGlyphs">Φ</text>
<path d="M375.6,3.25 h4.6" stroke="#222" stroke-width="0.6"/>
<text x="360.80" y="232.20" font-size="13.0" text-anchor="start" font-style="italic">j</text>
<text x="365.20" y="234.30" font-size="10.2" text-anchor="start" font-style="italic" textLength="6.6" lengthAdjust="spacingAndGlyphs">α</text>
<path d="M379.50,222.45 H377.90 V235.25 H379.50 M383.85,222.45 H385.45 V235.25 H383.85" fill="none" stroke="#222" stroke-width="0.7"/><path d="M379.80,229.30 h3.7" stroke="#222" stroke-width="0.9"/>
<g transform="translate(189.9,136) rotate(-90)"><path d="M4.2,-11.4 L0.5,-3.8 L4.2,3.8" fill="none" stroke="#222" stroke-width="0.7"/><text transform="translate(5.2,0) scale(1,1.08)" x="0" y="0" font-size="14" textLength="9.6" lengthAdjust="spacingAndGlyphs">Φ</text><path d="M7.4,-11.2 h5.2" stroke="#222" stroke-width="0.65"/><path d="M16.3,-11.4 L20.0,-3.8 L16.3,3.8" fill="none" stroke="#222" stroke-width="0.7"/></g>
<g transform="translate(189.6,108.8) rotate(-90) scale(0.9,1.03)"><path d="M2.00,-9.75 H0.40 V3.05 H2.00 M6.35,-9.75 H7.95 V3.05 H6.35" fill="none" stroke="#222" stroke-width="0.7"/><path d="M2.30,-2.90 h3.7" stroke="#222" stroke-width="0.9"/></g>
<text x="296.20" y="140.40" font-size="14" text-anchor="middle" textLength="15.6" lengthAdjust="spacingAndGlyphs">(d)</text>
<text x="404.90" y="89.00" font-size="14" text-anchor="middle" textLength="14.8" lengthAdjust="spacingAndGlyphs">(e)</text>
<text x="481.60" y="185.20" font-size="14" text-anchor="middle" textLength="13.2" lengthAdjust="spacingAndGlyphs">(f)</text>
<text x="41.00" y="459.80" font-size="12" text-anchor="middle" textLength="5.75" lengthAdjust="spacingAndGlyphs">0</text>
<text x="98.95" y="459.80" font-size="12" text-anchor="middle" textLength="17.25" lengthAdjust="spacingAndGlyphs">100</text>
<text x="156.90" y="459.80" font-size="12" text-anchor="middle" textLength="17.25" lengthAdjust="spacingAndGlyphs">200</text>
<text x="214.84" y="459.80" font-size="12" text-anchor="middle" textLength="17.25" lengthAdjust="spacingAndGlyphs">300</text>
<text x="272.79" y="459.80" font-size="12" text-anchor="middle" textLength="17.25" lengthAdjust="spacingAndGlyphs">400</text>
<text x="319.15" y="459.80" font-size="12" text-anchor="middle" textLength="17.25" lengthAdjust="spacingAndGlyphs">480</text>
<text x="32.40" y="424.40" font-size="12" text-anchor="end">1</text>
<text x="32.40" y="328.40" font-size="12" text-anchor="end">2</text>
<text x="60.00" y="263.70" font-size="14.5" text-anchor="start" textLength="62.0" lengthAdjust="spacingAndGlyphs">Theoretical</text>
<text x="126.60" y="263.70" font-size="14.5" text-anchor="start" textLength="48.9" lengthAdjust="spacingAndGlyphs">(dashed)</text>
<text x="181.00" y="263.70" font-size="14.5" text-anchor="start" textLength="14.6" lengthAdjust="spacingAndGlyphs">vs.</text>
<text x="201.90" y="263.70" font-size="14.5" text-anchor="start" textLength="54.0" lengthAdjust="spacingAndGlyphs">numerical</text>
<text x="261.20" y="263.70" font-size="14.5" text-anchor="start" textLength="35.2" lengthAdjust="spacingAndGlyphs">(solid)</text>
<text x="172.50" y="481.40" font-size="13.0" text-anchor="start" font-style="italic">j</text>
<text x="176.90" y="483.50" font-size="10.2" text-anchor="start" font-style="italic" textLength="6.6" lengthAdjust="spacingAndGlyphs">α</text>
<path d="M191.20,471.65 H189.60 V484.45 H191.20 M195.55,471.65 H197.15 V484.45 H195.55" fill="none" stroke="#222" stroke-width="0.7"/><path d="M191.50,478.50 h3.7" stroke="#222" stroke-width="0.9"/>
<text x="67.60" y="322.30" font-size="12.0" text-anchor="start" font-style="italic" textLength="7.4" lengthAdjust="spacingAndGlyphs">α</text>
<path d="M76.70,317.65 h8.0 M76.70,320.15 h8.0" stroke="#222" stroke-width="0.7" fill="none"/>
<text x="86.80" y="322.30" font-size="12.0" text-anchor="start" textLength="11.6" lengthAdjust="spacingAndGlyphs">35</text>
<text x="98.50" y="322.10" font-size="11.0" text-anchor="start">°</text>
<text x="67.60" y="333.60" font-size="12.0" text-anchor="start" font-style="italic" textLength="7.4" lengthAdjust="spacingAndGlyphs">α</text>
<path d="M76.70,328.95 h8.0 M76.70,331.45 h8.0" stroke="#222" stroke-width="0.7" fill="none"/>
<text x="86.80" y="333.60" font-size="12.0" text-anchor="start" textLength="11.6" lengthAdjust="spacingAndGlyphs">35</text>
<text x="98.50" y="333.40" font-size="11.0" text-anchor="start">°</text>
<text x="67.60" y="345.10" font-size="12.0" text-anchor="start" font-style="italic" textLength="7.4" lengthAdjust="spacingAndGlyphs">α</text>
<path d="M76.70,340.45 h8.0 M76.70,342.95 h8.0" stroke="#222" stroke-width="0.7" fill="none"/>
<text x="86.80" y="345.10" font-size="12.0" text-anchor="start" textLength="11.6" lengthAdjust="spacingAndGlyphs">40</text>
<text x="98.50" y="344.90" font-size="11.0" text-anchor="start">°</text>
<text x="67.60" y="356.40" font-size="12.0" text-anchor="start" font-style="italic" textLength="7.4" lengthAdjust="spacingAndGlyphs">α</text>
<path d="M76.70,351.75 h8.0 M76.70,354.25 h8.0" stroke="#222" stroke-width="0.7" fill="none"/>
<text x="86.80" y="356.40" font-size="12.0" text-anchor="start" textLength="11.6" lengthAdjust="spacingAndGlyphs">40</text>
<text x="98.50" y="356.20" font-size="11.0" text-anchor="start">°</text>
<text x="138.80" y="322.30" font-size="12.0" text-anchor="start" font-style="italic" textLength="7.4" lengthAdjust="spacingAndGlyphs">α</text>
<path d="M147.90,317.65 h8.0 M147.90,320.15 h8.0" stroke="#222" stroke-width="0.7" fill="none"/>
<text x="158.00" y="322.30" font-size="12.0" text-anchor="start" textLength="11.6" lengthAdjust="spacingAndGlyphs">45</text>
<text x="169.70" y="322.10" font-size="11.0" text-anchor="start">°</text>
<text x="138.80" y="333.60" font-size="12.0" text-anchor="start" font-style="italic" textLength="7.4" lengthAdjust="spacingAndGlyphs">α</text>
<path d="M147.90,328.95 h8.0 M147.90,331.45 h8.0" stroke="#222" stroke-width="0.7" fill="none"/>
<text x="158.00" y="333.60" font-size="12.0" text-anchor="start" textLength="11.6" lengthAdjust="spacingAndGlyphs">45</text>
<text x="169.70" y="333.40" font-size="11.0" text-anchor="start">°</text>
<text x="138.80" y="345.10" font-size="12.0" text-anchor="start" font-style="italic" textLength="7.4" lengthAdjust="spacingAndGlyphs">α</text>
<path d="M147.90,340.45 h8.0 M147.90,342.95 h8.0" stroke="#222" stroke-width="0.7" fill="none"/>
<text x="158.00" y="345.10" font-size="12.0" text-anchor="start" textLength="11.6" lengthAdjust="spacingAndGlyphs">60</text>
<text x="169.70" y="344.90" font-size="11.0" text-anchor="start">°</text>
<text x="138.80" y="356.40" font-size="12.0" text-anchor="start" font-style="italic" textLength="7.4" lengthAdjust="spacingAndGlyphs">α</text>
<path d="M147.90,351.75 h8.0 M147.90,354.25 h8.0" stroke="#222" stroke-width="0.7" fill="none"/>
<text x="158.00" y="356.40" font-size="12.0" text-anchor="start" textLength="11.6" lengthAdjust="spacingAndGlyphs">60</text>
<text x="169.70" y="356.20" font-size="11.0" text-anchor="start">°</text>
<g transform="translate(11.4,403.8) rotate(-90)"><text x="0" y="0" font-size="14" font-style="italic">A</text><text x="10.4" y="2.4" font-size="9.6" textLength="11.4" lengthAdjust="spacingAndGlyphs">eff</text><text x="27.8" y="0" font-size="14" textLength="18" lengthAdjust="spacingAndGlyphs">and</text><text x="50.2" y="0" font-size="14" font-style="italic">A</text><text x="60.4" y="3.2" font-size="9.6" textLength="11.4" lengthAdjust="spacingAndGlyphs">eff</text></g>
<g transform="translate(11.4,328.7) rotate(-90)"><path d="M2.00,-9.75 H0.40 V3.05 H2.00 M6.35,-9.75 H7.95 V3.05 H6.35" fill="none" stroke="#222" stroke-width="0.7"/><path d="M2.30,-2.90 h3.7" stroke="#222" stroke-width="0.9"/></g>
<polygon points="3.60,341.00 4.17,342.52 5.79,342.59 4.52,343.60 4.95,345.16 3.60,344.27 2.25,345.16 2.68,343.60 1.41,342.59 3.03,342.52" fill="#222" stroke="none"/>
<text x="397.75" y="459.80" font-size="12" text-anchor="middle" textLength="5.75" lengthAdjust="spacingAndGlyphs">0</text>
<text x="455.74" y="459.80" font-size="12" text-anchor="middle" textLength="17.25" lengthAdjust="spacingAndGlyphs">100</text>
<text x="513.73" y="459.80" font-size="12" text-anchor="middle" textLength="17.25" lengthAdjust="spacingAndGlyphs">200</text>
<text x="571.72" y="459.80" font-size="12" text-anchor="middle" textLength="17.25" lengthAdjust="spacingAndGlyphs">300</text>
<text x="629.71" y="459.80" font-size="12" text-anchor="middle" textLength="17.25" lengthAdjust="spacingAndGlyphs">400</text>
<text x="676.10" y="459.80" font-size="12" text-anchor="middle" textLength="17.25" lengthAdjust="spacingAndGlyphs">480</text>
<text x="388.90" y="280.10" font-size="12" text-anchor="end">0</text>
<text x="383.50" y="328.90" font-size="12" text-anchor="end">10</text>
<text x="383.90" y="325.00" font-size="7.6" text-anchor="start" textLength="9.3" lengthAdjust="spacingAndGlyphs">−2</text>
<text x="383.50" y="376.90" font-size="12" text-anchor="end">10</text>
<text x="383.90" y="373.00" font-size="7.6" text-anchor="start" textLength="9.3" lengthAdjust="spacingAndGlyphs">−4</text>
<text x="383.50" y="424.90" font-size="12" text-anchor="end">10</text>
<text x="383.90" y="421.00" font-size="7.6" text-anchor="start" textLength="9.3" lengthAdjust="spacingAndGlyphs">−6</text>
<text x="383.50" y="448.90" font-size="12" text-anchor="end">10</text>
<text x="383.90" y="445.00" font-size="7.6" text-anchor="start" textLength="9.3" lengthAdjust="spacingAndGlyphs">−7</text>
<text x="442.90" y="263.60" font-size="14.5" text-anchor="start" textLength="62.0" lengthAdjust="spacingAndGlyphs">Theoretical</text>
<text x="536.40" y="263.60" font-size="14.5" text-anchor="start" textLength="14.6" lengthAdjust="spacingAndGlyphs">vs.</text>
<text x="557.20" y="263.60" font-size="14.5" text-anchor="start" textLength="54.0" lengthAdjust="spacingAndGlyphs">numerical</text>
<text x="511.60" y="263.60" font-size="14.5" text-anchor="start" font-style="italic" textLength="9.2" lengthAdjust="spacingAndGlyphs">A</text>
<text x="520.60" y="265.70" font-size="9.8" text-anchor="start" textLength="11.2" lengthAdjust="spacingAndGlyphs">eff</text>
<text x="617.20" y="263.60" font-size="14.5" text-anchor="start" font-style="italic" textLength="9.2" lengthAdjust="spacingAndGlyphs">A</text>
<text x="625.50" y="266.70" font-size="9.8" text-anchor="start" textLength="11.2" lengthAdjust="spacingAndGlyphs">eff</text>
<polygon points="627.70,254.50 628.27,256.02 629.89,256.09 628.62,257.10 629.05,258.66 627.70,257.77 626.35,258.66 626.78,257.10 625.51,256.09 627.13,256.02" fill="#222" stroke="none"/>
<text x="528.90" y="481.40" font-size="13.0" text-anchor="start" font-style="italic">j</text>
<text x="533.30" y="483.50" font-size="10.2" text-anchor="start" font-style="italic" textLength="6.6" lengthAdjust="spacingAndGlyphs">α</text>
<path d="M547.60,471.65 H546.00 V484.45 H547.60 M551.95,471.65 H553.55 V484.45 H551.95" fill="none" stroke="#222" stroke-width="0.7"/><path d="M547.90,478.50 h3.7" stroke="#222" stroke-width="0.9"/>
<text x="0" y="0" font-size="14" transform="translate(358.8,378.0) rotate(-90)" textLength="18.9" lengthAdjust="spacingAndGlyphs">Err</text>
<g transform="translate(358.7,353.5) rotate(-90)"><path d="M2.00,-9.75 H0.40 V3.05 H2.00 M6.35,-9.75 H7.95 V3.05 H6.35" fill="none" stroke="#222" stroke-width="0.7"/><path d="M2.30,-2.90 h3.7" stroke="#222" stroke-width="0.9"/></g>
<text x="590.60" y="401.00" font-size="12.7" text-anchor="start" font-style="italic" textLength="7.8" lengthAdjust="spacingAndGlyphs">α</text>
<path d="M601.20,396.25 h9.0 M601.20,398.85 h9.0" stroke="#222" stroke-width="0.72" fill="none"/>
<text x="614.50" y="401.00" font-size="12.7" text-anchor="start" textLength="12.3" lengthAdjust="spacingAndGlyphs">35</text>
<text x="627.30" y="400.80" font-size="11.7" text-anchor="start">°</text>
<text x="590.60" y="412.60" font-size="12.7" text-anchor="start" font-style="italic" textLength="7.8" lengthAdjust="spacingAndGlyphs">α</text>
<path d="M601.20,407.85 h9.0 M601.20,410.45 h9.0" stroke="#222" stroke-width="0.72" fill="none"/>
<text x="614.50" y="412.60" font-size="12.7" text-anchor="start" textLength="12.3" lengthAdjust="spacingAndGlyphs">40</text>
<text x="627.30" y="412.40" font-size="11.7" text-anchor="start">°</text>
<text x="590.60" y="424.00" font-size="12.7" text-anchor="start" font-style="italic" textLength="7.8" lengthAdjust="spacingAndGlyphs">α</text>
<path d="M601.20,419.25 h9.0 M601.20,421.85 h9.0" stroke="#222" stroke-width="0.72" fill="none"/>
<text x="614.50" y="424.00" font-size="12.7" text-anchor="start" textLength="12.3" lengthAdjust="spacingAndGlyphs">45</text>
<text x="627.30" y="423.80" font-size="11.7" text-anchor="start">°</text>
<text x="590.60" y="435.10" font-size="12.7" text-anchor="start" font-style="italic" textLength="7.8" lengthAdjust="spacingAndGlyphs">α</text>
<path d="M601.20,430.35 h9.0 M601.20,432.95 h9.0" stroke="#222" stroke-width="0.72" fill="none"/>
<text x="614.50" y="435.10" font-size="12.7" text-anchor="start" textLength="12.3" lengthAdjust="spacingAndGlyphs">60</text>
<text x="627.30" y="434.90" font-size="11.7" text-anchor="start">°</text>
</g>
</svg>
</body></html>
